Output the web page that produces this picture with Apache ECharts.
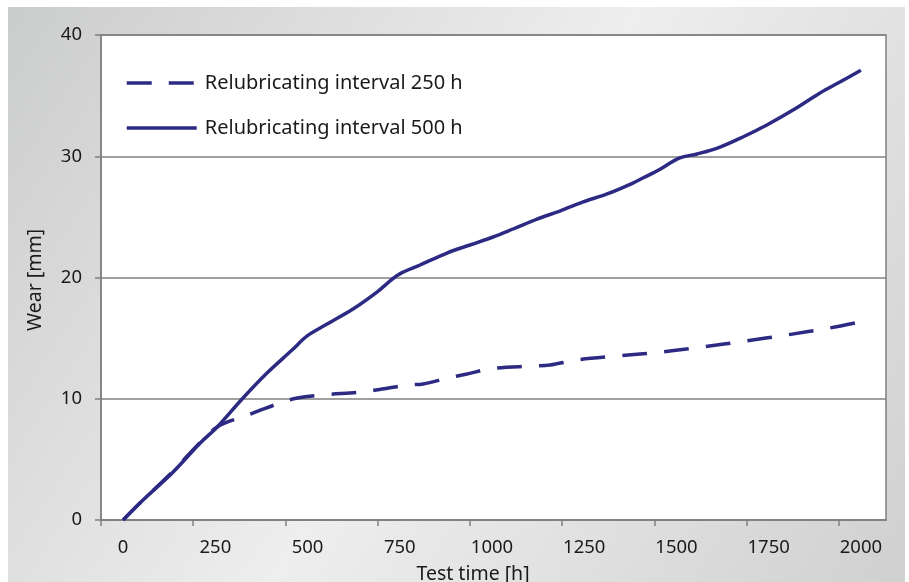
<!DOCTYPE html>
<html>
<head>
<meta charset="utf-8">
<script src="https://cdn.jsdelivr.net/npm/echarts@6/dist/echarts.min.js"></script>
<style>
html,body{margin:0;padding:0;background:#fff;}
#chart{width:909px;height:582px;}
</style>
</head>
<body>
<div id="chart"></div>
<script>
// ---- data ----
const seriesNames = ['Relubricating interval 250 h', 'Relubricating interval 500 h'];

const time250 = [0, 54, 133, 209, 255, 312, 352, 425, 472, 539, 650, 702, 770, 813, 881, 932, 1000, 1111, 1157, 1230, 1341, 1461, 1572, 1686, 1799, 1916, 2000];
const wear250 = [0, 1.65, 3.96, 6.4, 7.67, 8.41, 8.82, 9.65, 10.06, 10.31, 10.56, 10.8, 11.13, 11.22, 11.71, 12.04, 12.5, 12.7, 12.78, 13.2, 13.53, 13.86, 14.27, 14.76, 15.26, 15.84, 16.35];

const time500 = [0, 54, 133, 209, 255, 325, 390, 458, 499, 553, 623, 688, 745, 805, 878, 940, 1003, 1057, 1122, 1184, 1247, 1312, 1382, 1409, 1447, 1509, 1556, 1618, 1680, 1745, 1816, 1889, 1943, 2000];
const wear500 = [0, 1.65, 3.88, 6.35, 7.67, 10.06, 12.12, 14.02, 15.18, 16.16, 17.4, 18.8, 20.21, 21.03, 22.02, 22.68, 23.34, 24.0, 24.82, 25.48, 26.23, 26.89, 27.79, 28.21, 28.78, 29.86, 30.19, 30.76, 31.59, 32.58, 33.81, 35.22, 36.12, 37.1];

const xTickLabels = [0, 250, 500, 750, 1000, 1250, 1500, 1750, 2000];
const xTickMarks = [-60, 190, 440, 690, 940, 1190, 1440, 1690, 1940];
const yTicks = [0, 10, 20, 30, 40];
const xTitle = 'Test time [h]';
const yTitle = 'Wear [mm]';

// ---- chart ----
const FONT = '"Noto Sans", "Open Sans", sans-serif';
const LINE = '#2d2a84';
const GRID = '#808080';
const TXT = '#1a1a1a';

const chart = echarts.init(document.getElementById('chart'), null, {renderer: 'canvas'});
const pairs = (xs, ys) => xs.map((x, i) => [x, ys[i]]);

chart.setOption({
  animation: false,
  backgroundColor: '#ffffff',
  graphic: [
    {
      type: 'rect', z: -10, silent: true,
      shape: {x: 8, y: 7, width: 897, height: 575},
      style: {
        fill: new echarts.graphic.LinearGradient(0, 0, 1, 1, [
          {offset: 0, color: '#cbcccc'},
          {offset: 0.5, color: '#eeeeee'},
          {offset: 1, color: '#d0d0d0'}
        ])
      }
    },
    {
      type: 'text', silent: true, z: 10,
      x: 473, y: 574,
      style: {text: xTitle, font: '19.5px ' + FONT, fill: TXT, textAlign: 'center', textVerticalAlign: 'middle'}
    },
    {
      type: 'text', silent: true, z: 10,
      x: 35, y: 280, rotation: Math.PI / 2,
      style: {text: yTitle, font: '19.5px ' + FONT, fill: TXT, textAlign: 'center', textVerticalAlign: 'middle'}
    }
  ],
  grid: {
    left: 101, right: 23, top: 35, bottom: 62,
    show: true, backgroundColor: '#ffffff', borderColor: GRID, borderWidth: 1.5
  },
  legend: {
    orient: 'vertical', left: 125, top: 73, padding: 0,
    itemWidth: 70, itemHeight: 20, itemGap: 25,
    itemStyle: {opacity: 0},
    lineStyle: {width: 3.5},
    textStyle: {fontFamily: FONT, fontSize: 20, color: TXT, padding: [0, 0, 0, 3]},
    data: seriesNames
  },
  xAxis: {
    type: 'value', min: -60, max: 2068,
    axisLine: {show: true, lineStyle: {color: GRID, width: 1.5}},
    axisTick: {show: true, inside: false, length: 6, customValues: xTickMarks, lineStyle: {color: GRID, width: 1.5}},
    axisLabel: {customValues: xTickLabels, margin: 18, fontFamily: FONT, fontSize: 18.5, color: TXT, formatter: v => String(v)},
    splitLine: {show: false}
  },
  yAxis: {
    type: 'value', min: 0, max: 40, interval: 10,
    axisLine: {show: true, onZero: false, lineStyle: {color: GRID, width: 1.5}},
    axisTick: {show: true, length: 6, customValues: yTicks, lineStyle: {color: GRID, width: 1.5}},
    axisLabel: {customValues: yTicks, margin: 19, fontFamily: FONT, fontSize: 18.5, color: TXT, formatter: v => String(v)},
    splitLine: {show: true, lineStyle: {color: GRID, width: 1.5}}
  },
  series: [
    {
      name: seriesNames[0], type: 'line', data: pairs(time250, wear250),
      showSymbol: false, symbol: 'none', smooth: 0.35,
      lineStyle: {color: LINE, width: 3.5, type: [25, 17]},
      itemStyle: {color: LINE}
    },
    {
      name: seriesNames[1], type: 'line', data: pairs(time500, wear500),
      showSymbol: false, symbol: 'none', smooth: 0.35,
      lineStyle: {color: LINE, width: 3.5, type: 'solid'},
      itemStyle: {color: LINE}
    }
  ]
});
</script>
</body>
</html>
